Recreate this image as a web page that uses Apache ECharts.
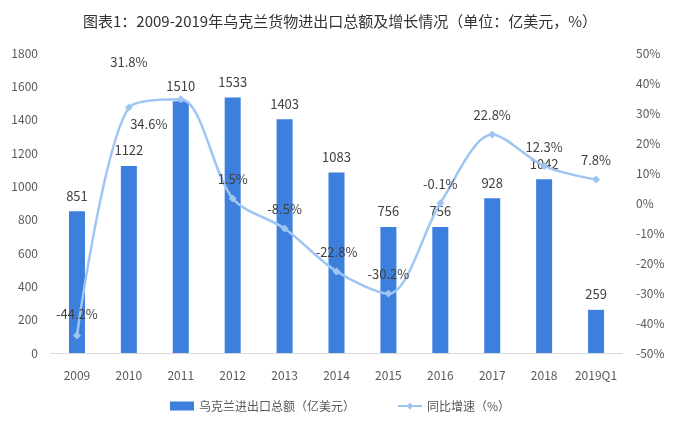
<!DOCTYPE html>
<html>
<head>
<meta charset="utf-8">
<script src="https://cdn.jsdelivr.net/npm/echarts@6/dist/echarts.min.js"></script>
<style>
  html, body { margin: 0; padding: 0; background: #fff; }
  #main { width: 680px; height: 429px; }
</style>
</head>
<body>
<div id="main"></div>
<script>
// 数据
var years = ['2009', '2010', '2011', '2012', '2013', '2014', '2015', '2016', '2017', '2018', '2019Q1']
var totalTrade = [851, 1122, 1510, 1533, 1403, 1083, 756, 756, 928, 1042, 259]
var growthRate = [-44.2, 31.8, 34.6, 1.5, -8.5, -22.8, -30.2, -0.1, 22.8, 12.3, 7.8]

// 折线标签的位置微调（模仿原图手动摆放的标签）
var rateLabelOffset = {
  0: [0, -2],
  1: [0, -26],
  2: [-32, 44]
}

var font = '"Microsoft YaHei", "Noto Sans CJK SC", sans-serif'

var chart = echarts.init(document.getElementById('main'))

var option = {
  backgroundColor: '#fff',
  textStyle: { fontFamily: font },
  title: {
    text: '图表1：2009-2019年乌克兰货物进出口总额及增长情况（单位：亿美元，%）',
    left: 'center',
    top: 9,
    textStyle: { fontSize: 15, fontWeight: 'normal', color: '#333', fontFamily: font }
  },
  legend: {
    bottom: 12,
    left: 'center',
    itemGap: 42,
    itemWidth: 24,
    itemHeight: 9,
    textStyle: { fontSize: 12, color: '#595959', fontFamily: font },
    data: [
      { name: '乌克兰进出口总额（亿美元）', icon: 'rect' },
      { name: '同比增速（%）' }
    ]
  },
  grid: { left: 51, right: 58, top: 53, bottom: 76 },
  xAxis: {
    type: 'category',
    data: years,
    axisTick: { show: false },
    axisLine: { lineStyle: { color: '#d9d9d9' } },
    axisLabel: { color: '#595959', fontSize: 12, margin: 16, interval: 0 }
  },
  yAxis: [
    {
      type: 'value',
      min: 0,
      max: 1800,
      interval: 200,
      splitLine: { show: false },
      axisLine: { show: false },
      axisTick: { show: false },
      axisLabel: { color: '#595959', fontSize: 12, margin: 13, formatter: function (v) { return String(v) } }
    },
    {
      type: 'value',
      min: -50,
      max: 50,
      interval: 10,
      splitLine: { show: false },
      axisLine: { show: false },
      axisTick: { show: false },
      axisLabel: { color: '#595959', fontSize: 12, margin: 14, formatter: '{value}%' }
    }
  ],
  series: [
    {
      name: '乌克兰进出口总额（亿美元）',
      type: 'bar',
      data: totalTrade,
      barWidth: 16,
      itemStyle: { color: '#3d7fdc' },
      label: {
        show: true,
        position: 'top',
        distance: 9,
        color: '#404040',
        fontSize: 13
      }
    },
    {
      name: '同比增速（%）',
      type: 'line',
      yAxisIndex: 1,
      data: growthRate.map(function (v, i) {
        var item = { value: v }
        if (rateLabelOffset[i]) item.label = { offset: rateLabelOffset[i] }
        return item
      }),
      smooth: 0.3,
      symbol: 'diamond',
      symbolSize: 8,
      lineStyle: { color: '#9fc5f3', width: 2.5 },
      itemStyle: { color: '#9fc5f3' },
      label: {
        show: true,
        position: 'top',
        distance: 9,
        color: '#404040',
        fontSize: 13,
        formatter: function (p) { return p.value + '%' }
      },
      z: 3
    }
  ]
}

chart.setOption(option)
</script>
</body>
</html>
